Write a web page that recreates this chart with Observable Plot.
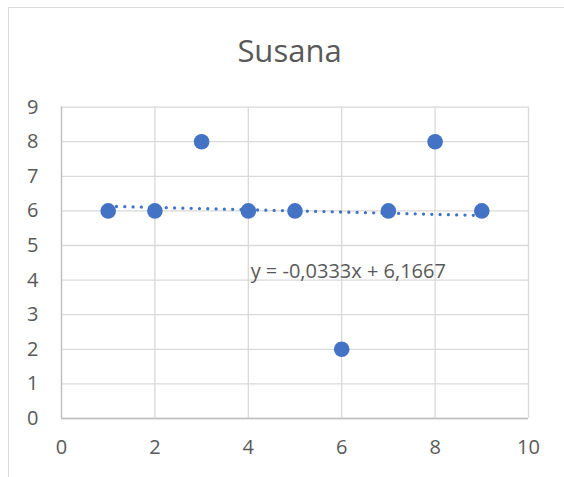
<!DOCTYPE html>
<html>
<head>
<meta charset="utf-8">
<script src="https://cdn.jsdelivr.net/npm/d3@7"></script>
<script src="https://cdn.jsdelivr.net/npm/@observablehq/plot@0.6"></script>
<style>
  html, body { margin: 0; padding: 0; background: #fff; }
  #wrap { position: relative; width: 564px; height: 477px; overflow: hidden; }
  #frame { position: absolute; left: 8px; top: 7px; width: 600px; height: 500px;
           border-left: 1px solid #d9d9d9; border-top: 1px solid #d9d9d9; box-sizing: border-box; }
  #chart { position: absolute; left: 0; top: 0; }
</style>
</head>
<body>
<div id="wrap"><div id="frame"></div><div id="chart"></div></div>
<script>
const title = "Susana";
const xValues = [1, 2, 3, 4, 5, 6, 7, 8, 9];
const yValues = [6, 6, 8, 6, 6, 2, 6, 8, 6];
const xTicks = [0, 2, 4, 6, 8, 10];
const yTicks = [0, 1, 2, 3, 4, 5, 6, 7, 8, 9];
const equationLabel = ["y = -0,0333x + 6,1667"];

const data = xValues.map((x, i) => ({x, y: yValues[i]}));

const font = "'Open Sans', 'Liberation Sans', sans-serif";
const textColor = "#595959";
const blue = "#4472C4";

const chart = Plot.plot({
  width: 564,
  height: 477,
  marginLeft: 61,
  marginRight: 36,
  marginTop: 106.6,
  marginBottom: 59,
  style: {fontFamily: font, background: "transparent"},
  x: {domain: [0, 10]},
  y: {domain: [0, 9]},
  marks: [
    Plot.gridX(xTicks, {stroke: "#d9d9d9", strokeOpacity: 1, strokeWidth: 1.3}),
    Plot.gridY(yTicks, {stroke: "#d9d9d9", strokeOpacity: 1, strokeWidth: 1.3}),
    Plot.ruleY([0], {stroke: "#bfbfbf", strokeWidth: 1.3}),
    Plot.ruleX([0], {stroke: "#bfbfbf", strokeWidth: 1.3}),
    Plot.axisX({ticks: xTicks, tickSize: 0, tickPadding: 21.5, fontSize: 20, fill: textColor, label: null, tickFormat: d => String(d)}),
    Plot.axisY({ticks: yTicks, tickSize: 0, tickPadding: 23, fontSize: 20, fill: textColor, label: null, tickFormat: d => String(d)}),
    Plot.linearRegressionY(data, {x: "x", y: "y", ci: 0, stroke: blue, strokeWidth: 3.3,
      strokeDasharray: "0 8.3", strokeLinecap: "round"}),
    Plot.dot(data, {x: "x", y: "y", r: 7.8, fill: blue, stroke: null}),
    Plot.text(equationLabel, {x: () => 4.05, y: () => 4.25, text: d => d, textAnchor: "start",
      lineAnchor: "middle", fontSize: 20, fill: textColor}),
    Plot.text([title], {frameAnchor: "top", dx: -5.5, dy: 52 - 106.6, lineAnchor: "middle",
      fontSize: 31, fill: textColor})
  ]
});
document.getElementById("chart").appendChild(chart);
</script>
</body>
</html>
